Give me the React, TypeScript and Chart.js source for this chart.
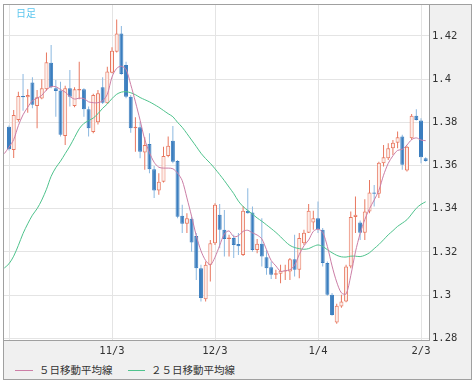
import { useEffect, useRef } from 'react';
import { Chart, registerables } from 'chart.js';

Chart.register(...registerables);

// ---- data ----
const OPEN = [
  1.3780, 1.3672, 1.3811, 1.3922, 1.3916, 1.3984, 1.3876, 1.3911, 1.3953, 1.4076,
  1.3958, 1.3947, 1.3737, 1.3958, 1.3876, 1.3947, 1.3953, 1.3861, 1.3755, 1.3800,
  1.3963, 1.3888, 1.4030, 1.4127, 1.4212, 1.4066, 1.3919, 1.3773, 1.3777, 1.3660,
  1.3700, 1.3583, 1.3484, 1.3525, 1.3644, 1.3715, 1.3621, 1.3367, 1.3330, 1.3353,
  1.3274, 1.3124, 1.2981, 1.3140, 1.3240, 1.3372, 1.3302, 1.3259, 1.3264, 1.3236,
  1.3186, 1.3391, 1.3382, 1.3209, 1.3237, 1.3175, 1.3129, 1.3094, 1.3098, 1.3109,
  1.3109, 1.3166, 1.3117, 1.3240, 1.3289, 1.3336, 1.3356, 1.3302, 1.3148, 1.3001,
  1.2873, 1.2947, 1.2970, 1.3132, 1.3361, 1.3336, 1.3289, 1.3387, 1.3475, 1.3469,
  1.3610, 1.3634, 1.3680, 1.3706, 1.3734, 1.3577, 1.3726, 1.3830, 1.3808, 1.3634,
];
const HIGH = [
  1.3785, 1.3857, 1.3942, 1.4024, 1.3953, 1.4009, 1.3950, 1.4000, 1.4123, 1.4158,
  1.3996, 1.3988, 1.3969, 1.4043, 1.3963, 1.4081, 1.3958, 1.3873, 1.3932, 1.3950,
  1.4009, 1.4058, 1.4148, 1.4277, 1.4246, 1.4081, 1.3927, 1.3824, 1.3803, 1.3731,
  1.3750, 1.3598, 1.3564, 1.3687, 1.3734, 1.3783, 1.3626, 1.3418, 1.3379, 1.3364,
  1.3287, 1.3140, 1.3155, 1.3255, 1.3425, 1.3422, 1.3394, 1.3279, 1.3279, 1.3287,
  1.3413, 1.3495, 1.3410, 1.3259, 1.3356, 1.3209, 1.3155, 1.3117, 1.3140, 1.3140,
  1.3171, 1.3279, 1.3287, 1.3302, 1.3422, 1.3391, 1.3433, 1.3310, 1.3155, 1.3009,
  1.2960, 1.3001, 1.3140, 1.3387, 1.3456, 1.3345, 1.3444, 1.3533, 1.3510, 1.3618,
  1.3695, 1.3703, 1.3718, 1.3757, 1.3742, 1.3691, 1.3839, 1.3861, 1.3819, 1.3638,
];
const LOW = [
  1.3670, 1.3635, 1.3803, 1.3854, 1.3845, 1.3865, 1.3773, 1.3907, 1.3947, 1.3958,
  1.3826, 1.3734, 1.3695, 1.3873, 1.3870, 1.3907, 1.3826, 1.3734, 1.3750, 1.3790,
  1.3885, 1.3885, 1.4027, 1.4123, 1.4020, 1.3912, 1.3752, 1.3664, 1.3634, 1.3580,
  1.3564, 1.3449, 1.3464, 1.3521, 1.3638, 1.3611, 1.3356, 1.3287, 1.3287, 1.3201,
  1.3070, 1.2970, 1.2970, 1.3063, 1.3232, 1.3217, 1.3178, 1.3178, 1.3171, 1.3186,
  1.3181, 1.3376, 1.3201, 1.3194, 1.3132, 1.3094, 1.3074, 1.3074, 1.3055, 1.3070,
  1.3070, 1.3086, 1.3078, 1.3232, 1.3287, 1.3302, 1.3287, 1.3132, 1.2997, 1.2904,
  1.2867, 1.2941, 1.2966, 1.3124, 1.3287, 1.3255, 1.3255, 1.3379, 1.3410, 1.3449,
  1.3595, 1.3626, 1.3649, 1.3680, 1.3580, 1.3572, 1.3718, 1.3808, 1.3611, 1.3618,
];
const CLOSE = [
  1.3675, 1.3834, 1.3922, 1.3916, 1.3927, 1.3881, 1.3916, 1.3958, 1.4078, 1.3962,
  1.3945, 1.3742, 1.3958, 1.3919, 1.3953, 1.3955, 1.3861, 1.3773, 1.3927, 1.3935,
  1.3891, 1.4035, 1.4132, 1.4212, 1.4024, 1.3919, 1.3773, 1.3780, 1.3664, 1.3695,
  1.3583, 1.3484, 1.3525, 1.3644, 1.3692, 1.3618, 1.3363, 1.3330, 1.3356, 1.3243,
  1.3124, 1.2986, 1.3140, 1.3240, 1.3418, 1.3302, 1.3259, 1.3266, 1.3232, 1.3226,
  1.3391, 1.3379, 1.3209, 1.3237, 1.3178, 1.3124, 1.3094, 1.3101, 1.3113, 1.3114,
  1.3166, 1.3117, 1.3264, 1.3289, 1.3391, 1.3356, 1.3305, 1.3148, 1.3001, 1.2908,
  1.2950, 1.2970, 1.3132, 1.3361, 1.3372, 1.3289, 1.3387, 1.3475, 1.3469, 1.3613,
  1.3638, 1.3680, 1.3706, 1.3731, 1.3603, 1.3687, 1.3830, 1.3811, 1.3638, 1.3621,
];
// moving averages, first value belongs to the day before the first candle
const MA5 = [
  1.3655, 1.3685, 1.3720, 1.3785, 1.3835, 1.3870, 1.3900, 1.3912, 1.3925, 1.3950,
  1.3965, 1.3965, 1.3952, 1.3940, 1.3920, 1.3908, 1.3912, 1.3910, 1.3895, 1.3891,
  1.3891, 1.3900, 1.3930, 1.4010, 1.4050, 1.4060, 1.4045, 1.3975, 1.3895, 1.3810,
  1.3720, 1.3660, 1.3615, 1.3592, 1.3588, 1.3588, 1.3585, 1.3565, 1.3530, 1.3450,
  1.3365, 1.3275, 1.3205, 1.3160, 1.3140, 1.3175, 1.3230, 1.3283, 1.3297, 1.3270,
  1.3275, 1.3295, 1.3300, 1.3288, 1.3278, 1.3260, 1.3210, 1.3160, 1.3135, 1.3110,
  1.3113, 1.3117, 1.3138, 1.3188, 1.3228, 1.3255, 1.3295, 1.3305, 1.3290, 1.3225,
  1.3135, 1.3060, 1.3010, 1.3005, 1.3090, 1.3200, 1.3285, 1.3350, 1.3400, 1.3440,
  1.3485, 1.3555, 1.3610, 1.3645, 1.3670, 1.3675, 1.3695, 1.3720, 1.3728, 1.3718,
  1.3715,
];
const MA25 = [
  1.3125, 1.3145, 1.3180, 1.3230, 1.3285, 1.3330, 1.3370, 1.3400, 1.3440, 1.3490,
  1.3550, 1.3590, 1.3620, 1.3655, 1.3690, 1.3730, 1.3770, 1.3795, 1.3808, 1.3820,
  1.3840, 1.3865, 1.3885, 1.3910, 1.3930, 1.3940, 1.3942, 1.3937, 1.3928, 1.3915,
  1.3905, 1.3895, 1.3883, 1.3870, 1.3855, 1.3840, 1.3826, 1.3800, 1.3777, 1.3748,
  1.3718, 1.3688, 1.3657, 1.3632, 1.3610, 1.3585, 1.3558, 1.3530, 1.3500, 1.3470,
  1.3435, 1.3410, 1.3392, 1.3375, 1.3357, 1.3342, 1.3325, 1.3308, 1.3290, 1.3270,
  1.3248, 1.3230, 1.3220, 1.3215, 1.3212, 1.3215, 1.3225, 1.3232, 1.3225, 1.3210,
  1.3196, 1.3184, 1.3177, 1.3176, 1.3180, 1.3180, 1.3178, 1.3184, 1.3196, 1.3215,
  1.3234, 1.3256, 1.3279, 1.3298, 1.3318, 1.3333, 1.3349, 1.3375, 1.3402, 1.3420,
  1.3432,
];
const X_TICK_INDEX = [0, 22, 44, 66, 88];
const X_TICK_LABELS = ['', '11/3', '12/3', '1/4', '2/3'];
const Y_TICKS = [1.28, 1.3, 1.32, 1.34, 1.36, 1.38, 1.4, 1.42];
const SERIES_LABELS = ['５日移動平均線', '２５日移動平均線'];
const PERIOD_LABEL = '日足';

// ---- styles ----
const UP_LINE = '#e8775f';
const UP_FILL = '#fdeee9';
const DOWN_BODY = '#3b7ebf';
const DOWN_WICK = '#8bb8e0';
const MA5_COLOR = '#cc7ea6';
const MA25_COLOR = '#4fc38d';
const GRID = '#e4e4e4';
const FRAME = '#a0a0a0';
const TEXT = '#333333';

export default function App() {
  const ref = useRef<HTMLCanvasElement>(null);

  useEffect(() => {
    const up = OPEN.map((o, i) => CLOSE[i] >= o);
    const plotFrame = {
      id: 'plotFrame',
      beforeDraw(chart: any) {
        const { ctx, chartArea: a } = chart;
        ctx.save();
        ctx.fillStyle = '#ffffff';
        ctx.fillRect(a.left, a.top, a.right - a.left, a.bottom - a.top);
        ctx.restore();
      },
      afterDraw(chart: any) {
        const { ctx, chartArea: a } = chart;
        ctx.save();
        ctx.strokeStyle = FRAME;
        ctx.lineWidth = 1;
        ctx.beginPath();
        ctx.moveTo(a.right - 0.5, a.top);
        ctx.lineTo(a.right - 0.5, a.bottom);
        ctx.moveTo(a.left, a.bottom - 0.5);
        ctx.lineTo(a.right, a.bottom - 0.5);
        ctx.stroke();
        ctx.restore();
      },
    };

    const chart = new Chart(ref.current as HTMLCanvasElement, {
      type: 'bar',
      data: {
        datasets: [
          {
            type: 'line',
            label: SERIES_LABELS[0],
            data: MA5.map((v, k) => ({ x: k - 1, y: v })),
            borderColor: MA5_COLOR,
            borderWidth: 1,
            pointRadius: 0,
            tension: 0.3,
            order: 0,
          },
          {
            type: 'line',
            label: SERIES_LABELS[1],
            data: MA25.map((v, k) => ({ x: k - 1, y: v })),
            borderColor: MA25_COLOR,
            borderWidth: 1,
            pointRadius: 0,
            tension: 0.3,
            order: 0,
          },
          {
            type: 'bar',
            label: 'body',
            data: OPEN.map((o, i) => ({ x: i, y: [o, CLOSE[i]] })),
            backgroundColor: up.map((u) => (u ? UP_FILL : DOWN_BODY)),
            borderColor: up.map((u) => (u ? UP_LINE : DOWN_BODY)),
            borderWidth: 1,
            borderSkipped: false,
            barThickness: 4,
            grouped: false,
            inflateAmount: 0,
            order: 1,
          },
          {
            type: 'bar',
            label: 'wick',
            data: HIGH.map((h, i) => ({ x: i, y: [LOW[i], h] })),
            backgroundColor: up.map((u) => (u ? UP_LINE : DOWN_WICK)),
            borderWidth: 0,
            barThickness: 1,
            grouped: false,
            inflateAmount: 0,
            order: 2,
          },
        ] as any,
      },
      options: {
        animation: false,
        responsive: false,
        events: [],
        layout: { padding: 0 },
        plugins: {
          legend: { display: false },
          tooltip: { enabled: false },
        },
        scales: {
          x: {
            type: 'linear',
            min: -1.068,
            max: 89.922,
            offset: false,
            grid: { color: GRID, drawTicks: false, offset: false },
            border: { display: false },
            ticks: {
              autoSkip: false,
              maxRotation: 0,
              padding: 4,
              color: TEXT,
              font: { family: '"DejaVu Sans Mono", monospace', size: 10.5 },
              callback: (v: any) => {
                const k = X_TICK_INDEX.indexOf(Number(v));
                return k >= 0 ? X_TICK_LABELS[k] : '';
              },
            },
            afterBuildTicks: (s: any) => {
              s.ticks = X_TICK_INDEX.map((v) => ({ value: v }));
            },
            afterFit: (s: any) => {
              s.height = 19;
              s.paddingLeft = 0;
              s.paddingRight = 0;
            },
          },
          y: {
            type: 'linear',
            position: 'right',
            min: 1.278703,
            max: 1.434361,
            grid: { color: GRID, drawTicks: false },
            border: { display: false },
            ticks: {
              padding: 2,
              color: TEXT,
              font: { family: '"DejaVu Sans Mono", monospace', size: 10.5 },
              callback: (v: any) => String(Number(Number(v).toFixed(2))),
            },
            afterBuildTicks: (s: any) => {
              s.ticks = Y_TICKS.map((v) => ({ value: v }));
            },
            afterFit: (s: any) => {
              s.width = 41;
              s.paddingTop = 0;
              s.paddingBottom = 0;
            },
          },
        },
      } as any,
      plugins: [plotFrame],
    });
    return () => chart.destroy();
  }, []);

  const legendText: React.CSSProperties = {
    position: 'absolute',
    top: 359,
    height: 12,
    lineHeight: '12px',
    fontSize: 10.5,
    color: TEXT,
    fontFamily: '"Noto Sans CJK JP", sans-serif',
    whiteSpace: 'nowrap',
  };

  return (
    <div
      style={{
        position: 'absolute',
        left: 3,
        top: 4,
        width: 467,
        height: 374,
        border: `1px solid ${FRAME}`,
        background: '#f0f0f0',
      }}
    >
      <canvas
        ref={ref}
        width={467}
        height={355}
        style={{ display: 'block', width: 467, height: 355 }}
      />
      <div
        style={{
          position: 'absolute',
          left: 12,
          top: 2,
          height: 12,
          lineHeight: '12px',
          fontSize: 10,
          color: '#5cc6ee',
          fontFamily: '"Noto Sans CJK JP", sans-serif',
        }}
      >
        {PERIOD_LABEL}
      </div>
      <div style={{ position: 'absolute', left: 11, top: 365, width: 18, height: 1, background: MA5_COLOR }} />
      <div style={{ ...legendText, left: 35 }}>{SERIES_LABELS[0]}</div>
      <div style={{ position: 'absolute', left: 124, top: 365, width: 17, height: 1, background: MA25_COLOR }} />
      <div style={{ ...legendText, left: 147 }}>{SERIES_LABELS[1]}</div>
    </div>
  );
}
